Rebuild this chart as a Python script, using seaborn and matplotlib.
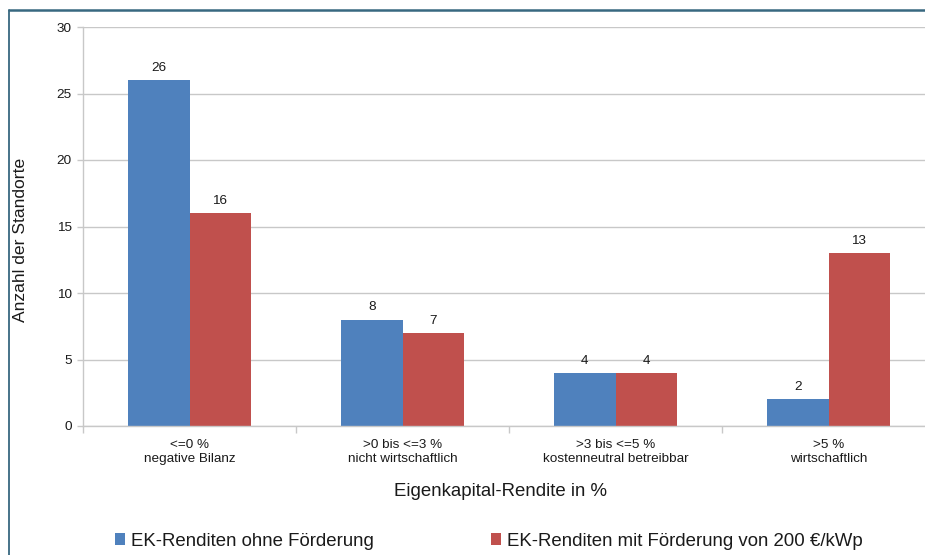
import matplotlib
matplotlib.use("Agg")
import matplotlib.pyplot as plt
from matplotlib.lines import Line2D
from matplotlib.patches import Patch
import seaborn as sns
import pandas as pd

# Categories of equity return and number of sites per category
categories = [
    "<=0 %\nnegative Bilanz",
    ">0 bis <=3 %\nnicht wirtschaftlich",
    ">3 bis <=5 %\nkostenneutral betreibbar",
    ">5 %\nwirtschaftlich",
]
series_names = ["EK-Renditen ohne Förderung", "EK-Renditen mit Förderung von 200 €/kWp"]
ohne_foerderung = [26, 8, 4, 2]
mit_foerderung = [16, 7, 4, 13]
y_ticks = [0, 5, 10, 15, 20, 25, 30]

colors = ["#4F81BD", "#C0504D"]
text_color = "#1A1A1A"
grid_color = "#C8C8C8"

df = pd.DataFrame({
    "Kategorie": categories * 2,
    "Serie": [series_names[0]] * len(categories) + [series_names[1]] * len(categories),
    "Anzahl": ohne_foerderung + mit_foerderung,
})

sns.set_theme(style="white")
plt.rcParams["font.family"] = ["Liberation Sans", "DejaVu Sans"]

W, H = 925, 555
fig = plt.figure(figsize=(W / 100, H / 100), dpi=100)
fig.patch.set_facecolor("white")

# Plot area in pixel coordinates
x0, x1, ytop, ybot = 83, 935, 27, 426
ax = fig.add_axes([x0 / W, 1 - ybot / H, (x1 - x0) / W, (ybot - ytop) / H])

sns.barplot(
    data=df, x="Kategorie", y="Anzahl", hue="Serie", hue_order=series_names,
    palette=colors, width=0.573, gap=0, linewidth=0, saturation=1,
    ax=ax, legend=False, zorder=3,
)

for cont in ax.containers:
    ax.bar_label(cont, fmt="%d", padding=4.5, fontsize=9.7, color=text_color)

ax.set_xlim(-0.5, len(categories) - 0.5)
ax.set_ylim(0, 30)
ax.set_yticks(y_ticks)
ax.set_yticklabels([str(t) for t in y_ticks])

# Gridlines and axes styling
ax.yaxis.grid(True, color=grid_color, linewidth=1, zorder=0)
ax.xaxis.grid(False)
for side in ["top", "right"]:
    ax.spines[side].set_visible(False)
for side in ["left", "bottom"]:
    ax.spines[side].set_color(grid_color)
    ax.spines[side].set_linewidth(1)
    ax.spines[side].set_zorder(4)

ax.tick_params(axis="y", which="major", length=4, width=1, color=grid_color,
               labelsize=9.7, labelcolor=text_color, pad=4, left=True)
ax.tick_params(axis="x", which="major", length=0, labelsize=9.7,
               labelcolor=text_color, pad=9)
for lbl in ax.get_xticklabels():
    lbl.set_linespacing(1.25)
ax.set_xticks([i - 0.5 for i in range(len(categories) + 1)], minor=True)
ax.tick_params(axis="x", which="minor", length=5, width=1, color=grid_color, bottom=True)

ax.set_xlabel("Eigenkapital-Rendite in %", fontsize=13.4, color=text_color)
ax.set_ylabel("Anzahl der Standorte", fontsize=12.6, color=text_color)
ax.xaxis.label.set_va("center")
ax.yaxis.label.set_va("center")
ax.xaxis.set_label_coords((500 - x0) / (x1 - x0), -(492 - ybot) / (ybot - ytop))
ax.yaxis.set_label_coords(-(x0 - 21) / (x1 - x0), (ybot - 240) / (ybot - ytop))

# Legend below the chart
handles = [Patch(facecolor=c, edgecolor="none") for c in colors]
fig.legend(
    handles, series_names, loc="center", ncol=2,
    bbox_to_anchor=(489 / W, 1 - 541 / H), frameon=False,
    fontsize=13.4, handlelength=0.55, handleheight=0.55,
    handletextpad=0.3, columnspacing=6.3, labelcolor=text_color,
)

# Frame lines at the top and left edges
frame_color = "#386880"
fig.add_artist(Line2D([9 / W, 1], [1 - 10 / H, 1 - 10 / H], color=frame_color,
                      linewidth=1.8, transform=fig.transFigure))
fig.add_artist(Line2D([9 / W, 9 / W], [0, 1 - 10 / H], color=frame_color,
                      linewidth=1.3, transform=fig.transFigure))

fig.savefig("out.png", dpi=100, facecolor="white")
